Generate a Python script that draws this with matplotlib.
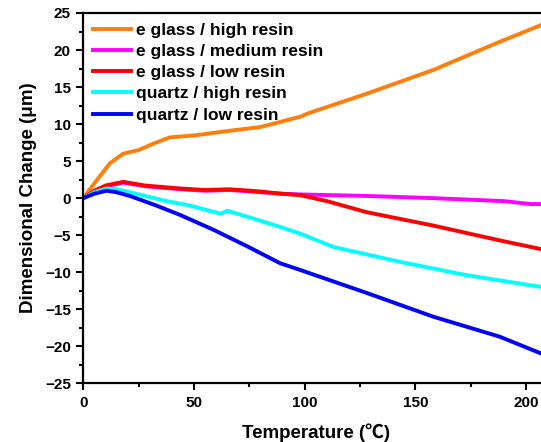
import matplotlib
matplotlib.use("Agg")
import matplotlib.pyplot as plt
from matplotlib.ticker import MultipleLocator

plt.rcParams['font.family'] = ['Liberation Sans', 'Noto Sans CJK SC', 'DejaVu Sans']
plt.rcParams['font.weight'] = 'bold'

# Data
eg_high_x = [0, 5, 12, 18, 25, 32, 39, 51, 66, 80, 89, 98, 102, 128, 158, 188, 207]
eg_high_y = [0, 2.0, 4.7, 6.0, 6.5, 7.4, 8.2, 8.5, 9.1, 9.6, 10.3, 11.0, 11.5, 14.1, 17.3, 21.1, 23.4]

eg_med_x = [0, 5, 10, 18, 28, 44, 55, 66, 80, 90, 98, 128, 158, 190, 202, 207]
eg_med_y = [0, 0.9, 1.6, 2.1, 1.6, 1.2, 1.0, 1.1, 0.8, 0.6, 0.5, 0.3, 0.0, -0.4, -0.8, -0.8]

eg_low_x = [0, 5, 10, 18, 28, 44, 55, 66, 80, 89, 98, 110, 128, 158, 188, 207]
eg_low_y = [0, 1.0, 1.7, 2.2, 1.7, 1.3, 1.1, 1.2, 0.9, 0.6, 0.4, -0.4, -1.9, -3.7, -5.7, -6.9]

qz_high_x = [0, 5, 10.5, 15, 21, 36, 48, 62, 65, 74, 89, 98, 113, 143, 173, 207]
qz_high_y = [0, 0.8, 1.3, 1.2, 0.8, -0.3, -1.0, -2.1, -1.7, -2.5, -3.9, -4.8, -6.6, -8.6, -10.4, -12.0]

qz_low_x = [0, 5, 10.5, 15, 21, 33, 44, 59, 74, 89, 98, 128, 158, 188, 207]
qz_low_y = [0, 0.6, 1.0, 0.8, 0.3, -1.0, -2.3, -4.3, -6.5, -8.8, -9.7, -12.8, -16.0, -18.7, -21.0]

series = [
    (eg_high_x, eg_high_y, '#FF7F0E', 'e glass / high resin'),
    (eg_med_x, eg_med_y, '#FF00FF', 'e glass / medium resin'),
    (eg_low_x, eg_low_y, '#FF0000', 'e glass / low resin'),
    (qz_high_x, qz_high_y, '#00FFFF', 'quartz / high resin'),
    (qz_low_x, qz_low_y, '#0000FF', 'quartz / low resin'),
]

fig = plt.figure(figsize=(5.41, 4.42), dpi=100)
ax = fig.add_axes([83.3 / 541, 1 - 383.3 / 442, (210 * 2.214) / 541, (383.3 - 13) / 442])

for x, y, c, lab in series:
    ax.plot(x, y, color=c, lw=2.8, label=lab)

ax.set_xlim(0, 210)
ax.set_ylim(-25, 25)
ax.xaxis.set_major_locator(MultipleLocator(50))
ax.xaxis.set_minor_locator(MultipleLocator(25))
ax.yaxis.set_major_locator(MultipleLocator(5))
ax.yaxis.set_minor_locator(MultipleLocator(2.5))
ax.tick_params(which='major', direction='out', length=5, width=1.5, labelsize=11, pad=4)
ax.tick_params(which='minor', direction='out', length=3, width=1.5)
for lab in ax.get_xticklabels() + ax.get_yticklabels():
    lab.set_fontweight('bold')
for s in ax.spines.values():
    s.set_linewidth(1.6)

ax.set_xlabel('Temperature (℃)', fontsize=13.5, fontweight='bold', labelpad=10)
ax.set_ylabel('Dimensional Change (μm)', fontsize=13.5, fontweight='bold', labelpad=6)

leg = ax.legend(loc='upper left', frameon=False, handlelength=2.2,
                handletextpad=0.3, labelspacing=0.35, borderaxespad=0.15,
                prop={'weight': 'bold', 'size': 12.5})

fig.savefig('out.png', dpi=100)
